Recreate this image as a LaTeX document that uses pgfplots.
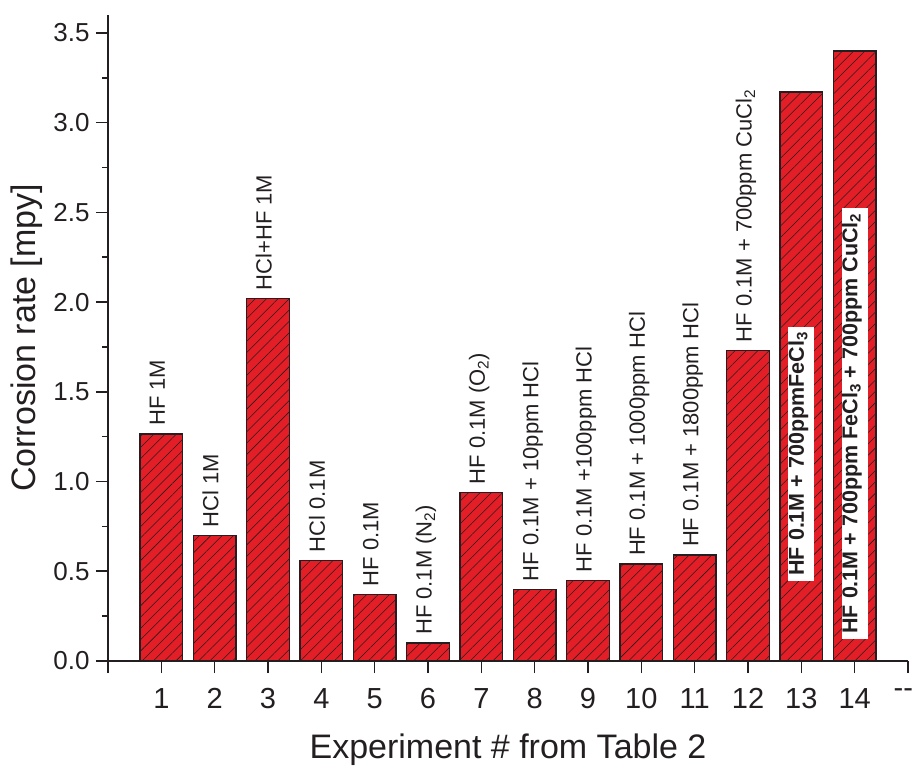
\documentclass[border=0pt]{standalone}
\usepackage{pgfplots}
\pgfplotsset{compat=1.18}
\usetikzlibrary{patterns.meta}
\usepackage{fontspec}
\setmainfont{Liberation Sans}
\definecolor{barred}{RGB}{228,30,38}
\definecolor{ink}{RGB}{35,31,32}
\begin{document}
\begin{tikzpicture}[x=1pt,y=1pt]
\useasboundingbox (0,0) rectangle (913,769);
\begin{axis}[
  at={(108pt,108pt)}, anchor=south west,
  scale only axis, width=800pt, height=646pt,
  xmin=0, xmax=15, ymin=0, ymax=3.6,
  clip=false,
  axis lines*=left,
  axis line style={line width=1.6pt, ink},
  every tick/.style={line width=1.6pt, ink},
  tick align=outside,
  major tick length=12pt, minor tick length=6pt,
  xtick={0,1,2,3,4,5,6,7,8,9,10,11,12,13,14,15},
  xticklabels={{},1,2,3,4,5,6,7,8,9,10,11,12,13,14,{\makebox[10pt][r]{-{}-}}},
  ytick={0,0.5,1,1.5,2,2.5,3,3.5},
  minor y tick num=1,
  /pgf/number format/assume math mode=true,
  xticklabel style={font=\fontsize{29}{34}\selectfont, text=ink, yshift=-12pt},
  yticklabel style={font=\fontsize{26}{30}\selectfont, text=ink, xshift=-3pt,
     /pgf/number format/fixed, /pgf/number format/fixed zerofill, /pgf/number format/precision=1},
  xlabel={Experiment \# from Table 2},
  ylabel={Corrosion rate [mpy]},
  xlabel style={font=\fontsize{34}{40}\selectfont, text=ink, at={(axis description cs:0.5,-0.137)}, anchor=center},
  ylabel style={font=\fontsize{34}{40}\selectfont, text=ink, at={(axis description cs:-0.10125,0.5)}, anchor=center},
]
\addplot[ybar, bar width=0.8, fill=barred, draw=ink, line width=1.4pt,
  postaction={pattern={Lines[angle=45,distance=8pt,line width=0.55pt]}, pattern color=ink}]
coordinates {(1,1.265) (2,0.70) (3,2.02) (4,0.56) (5,0.37) (6,0.10) (7,0.94)
 (8,0.40) (9,0.45) (10,0.54) (11,0.59) (12,1.73) (13,3.17) (14,3.40)};

\addplot[draw=none, mark=none, nodes near coords, point meta=explicit symbolic,
  every node near coord/.style={rotate=90, anchor=west, font=\fontsize{22}{26}\selectfont,
    text=ink, inner xsep=8pt, inner ysep=2pt, text height=0.72em, text depth=0pt}]
coordinates {
 (1,1.265) [HF 1M]
 (2,0.70) [HCl 1M]
 (3,2.02) [HCl+HF 1M]
 (4,0.56) [HCl 0.1M]
 (5,0.37) [HF 0.1M]
 (6,0.10) [HF 0.1M (N\textsubscript{2})]
 (7,0.94) [HF 0.1M (O\textsubscript{2})]
 (8,0.40) [HF 0.1M + 10ppm HCl]
 (9,0.45) [HF 0.1M +100ppm HCl]
 (10,0.54) [HF 0.1M + 1000ppm HCl]
 (11,0.59) [HF 0.1M + 1800ppm HCl]
 (12,1.73) [HF 0.1M + 700ppm CuCl\textsubscript{2}]
};

\addplot[draw=none, mark=none, nodes near coords, point meta=explicit symbolic,
  every node near coord/.style={rotate=90, anchor=center, font=\bfseries\fontsize{21.5}{26}\selectfont,
    text=ink, fill=white, inner xsep=5pt, inner ysep=8pt, text height=0.75em, text depth=0.22em}]
coordinates {
 (13,1.155) [HF 0.1M + 700ppmFeCl\textsubscript{3}]
 (14,1.324) [HF 0.1M + 700ppm FeCl\textsubscript{3} + 700ppm CuCl\textsubscript{2}]
};
\end{axis}
\end{tikzpicture}
\end{document}
